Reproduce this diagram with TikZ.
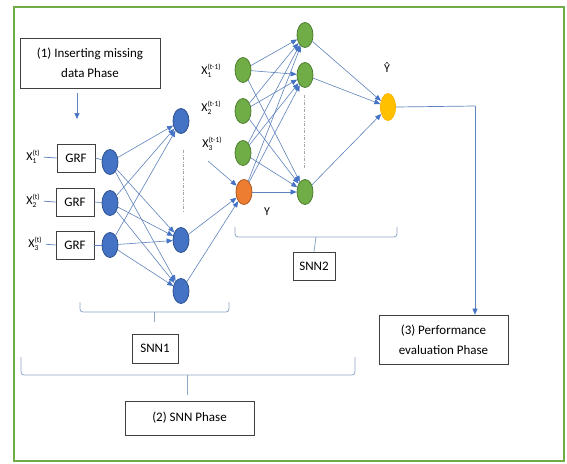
\documentclass[tikz,border=0pt]{standalone}
\usepackage{fontspec}
\setmainfont{Carlito}
\usetikzlibrary{shapes.geometric,arrows.meta}
\definecolor{nblue}{HTML}{4472C4}
\definecolor{nblueD}{HTML}{2F528F}
\definecolor{ngreen}{HTML}{70AD47}
\definecolor{ngreenD}{HTML}{507E32}
\definecolor{norange}{HTML}{ED7D31}
\definecolor{norangeD}{HTML}{AE5A21}
\definecolor{nyellow}{HTML}{FFC000}
\definecolor{edgecol}{HTML}{5F83BC}
\definecolor{bracecol}{HTML}{8EA7C4}
\definecolor{boxcol}{HTML}{404040}
\definecolor{framecol}{HTML}{70AD47}
\newcommand{\xlab}[2]{X\rlap{\raisebox{-3pt}{\fontsize{7.5}{8}\selectfont #1}}\raisebox{5pt}{\fontsize{7.5}{8}\selectfont (#2)}}
\begin{document}
\begin{tikzpicture}[x=1pt,y=-1pt,
  every node/.style={font=\fontsize{13}{20}\selectfont},
  neuron/.style={ellipse,minimum width=16pt,minimum height=25pt,inner sep=0pt,line width=0.8pt},
  nb/.style={neuron,fill=nblue,draw=nblueD},
  ng/.style={neuron,fill=ngreen,draw=ngreenD},
  no/.style={neuron,fill=norange,draw=norangeD},
  ny/.style={neuron,fill=nyellow,draw=nyellow!85!orange,minimum width=15pt,minimum height=27pt},
  edge/.style={draw=edgecol,line width=0.6pt,-{Triangle[length=6pt,width=5pt,fill=nblue,color=nblue]}},
  plain/.style={draw=edgecol,line width=0.7pt},
  box/.style={draw=boxcol,line width=0.7pt,rectangle,inner sep=0pt,align=center},
  brace/.style={draw=bracecol,line width=0.8pt,rounded corners=3pt},
  dots/.style={draw=gray!70,line width=0.7pt,dash pattern=on 3pt off 1.5pt on 1pt off 1.5pt},
  lab/.style={inner sep=1pt,font=\fontsize{12}{14}\selectfont}
]
\useasboundingbox (0,0) rectangle (567,463);
\fill[white] (0,0) rectangle (567,463);
\draw[framecol,line width=1.2pt] (14,7) rectangle (564,461);

% phase boxes
\node[box,minimum width=140pt,minimum height=50pt] (p1) at (90,63) {(1) Inserting missing\\data Phase};
\node[box,minimum width=129pt,minimum height=49pt] (p3) at (443.5,339.5) {(3) Performance\\evaluation Phase};
\node[box,minimum width=129pt,minimum height=34pt] (p2) at (189.5,418) {(2) SNN Phase};
\node[box,minimum width=46pt,minimum height=29pt] (s1) at (155,348.5) {SNN1};
\node[box,minimum width=42pt,minimum height=28pt] (s2) at (314,266) {SNN2};

% arrow below phase 1
\coordinate (a1s) at (77,93);
\coordinate (a1e) at (77,119);
\draw[edge] (a1s) -- (a1e);

% GRF boxes
\node[box,minimum width=38pt,minimum height=28pt] (g1) at (76,158) {GRF};
\node[box,minimum width=38pt,minimum height=28pt] (g2) at (75,202) {GRF};
\node[box,minimum width=38pt,minimum height=28pt] (g3) at (75,245) {GRF};

% input labels
\node[lab] (lx1) at (33,157) {\xlab{1}{t}};
\node[lab] (lx2) at (33,201) {\xlab{2}{t}};
\node[lab] (lx3) at (35,244) {\xlab{3}{t}};
\draw[plain,shorten <=3pt] (lx1.east) -- (g1.west);
\draw[plain,shorten <=3pt] (lx2.east) -- (g2.west);
\draw[plain,shorten <=3pt] (lx3.east) -- (g3.west);

% SNN1 neurons
\node[nb] (i1) at (110,162) {};
\node[nb] (i2) at (110,203) {};
\node[nb] (i3) at (110,245) {};
\node[nb] (h1) at (181,121) {};
\node[nb] (h2) at (181,240) {};
\node[nb] (h3) at (181,291) {};
\draw[plain] (g1.east) -- (i1);
\draw[plain] (g2.east) -- (i2);
\draw[plain] (g3.east) -- (i3);
\draw[dots] (183,150) -- (183,212);
\foreach \a in {i1,i2,i3}{
  \foreach \b in {h1,h2,h3}{
    \draw[edge] (\a) -- (\b);
  }
}

% SNN2 neurons
\node[ng] (x1) at (243,70) {};
\node[ng] (x2) at (243,111) {};
\node[ng] (x3) at (243,153) {};
\node[no] (o) at (244,192) {};
\node[ng] (k1) at (305,35) {};
\node[ng] (k2) at (305,75) {};
\node[ng] (k3) at (305,192) {};
\node[ny] (yh) at (388,107) {};
\draw[dots] (304,95) -- (304,168);

\node[lab] (lt1) at (211,71) {\xlab{1}{t-1}};
\node[lab] (lt2) at (211,108) {\xlab{2}{t-1}};
\node[lab] (lt3) at (212,144) {\xlab{3}{t-1}};
\node[lab] (ly) at (267,212) {Y};
\node[lab] (lyh) at (387,68) {Ŷ};

\draw[edge] (h2) -- (o);
\draw[edge] (h3) -- (o);
\coordinate (t3s) at (208,161);
\draw[edge] (t3s) -- (o);

\foreach \a in {x1,x2,x3,o}{
  \foreach \b in {k1,k2,k3}{
    \draw[edge] (\a) -- (\b);
  }
}
\foreach \a in {k1,k2,k3}{
  \draw[edge] (\a) -- (yh);
}

% output line
\coordinate (c1) at (475,106);
\draw[plain] (yh.east) -- (c1);
\draw[edge] (c1) -- (c1 |- p3.north);

% braces
\draw[brace] (235,227) -- (235,237) -- (397,237) -- (397,227);
\draw[brace] (316,237) -- (s2.north);
\draw[brace] (80,302) -- (80,312) -- (229,312) -- (229,302);
\draw[brace] (154,312) -- (154,322);
\draw[brace] (21,357) -- (21,375) -- (355,375) -- (355,357);
\draw[brace] (187,375) -- (187,395);
\end{tikzpicture}
\end{document}
